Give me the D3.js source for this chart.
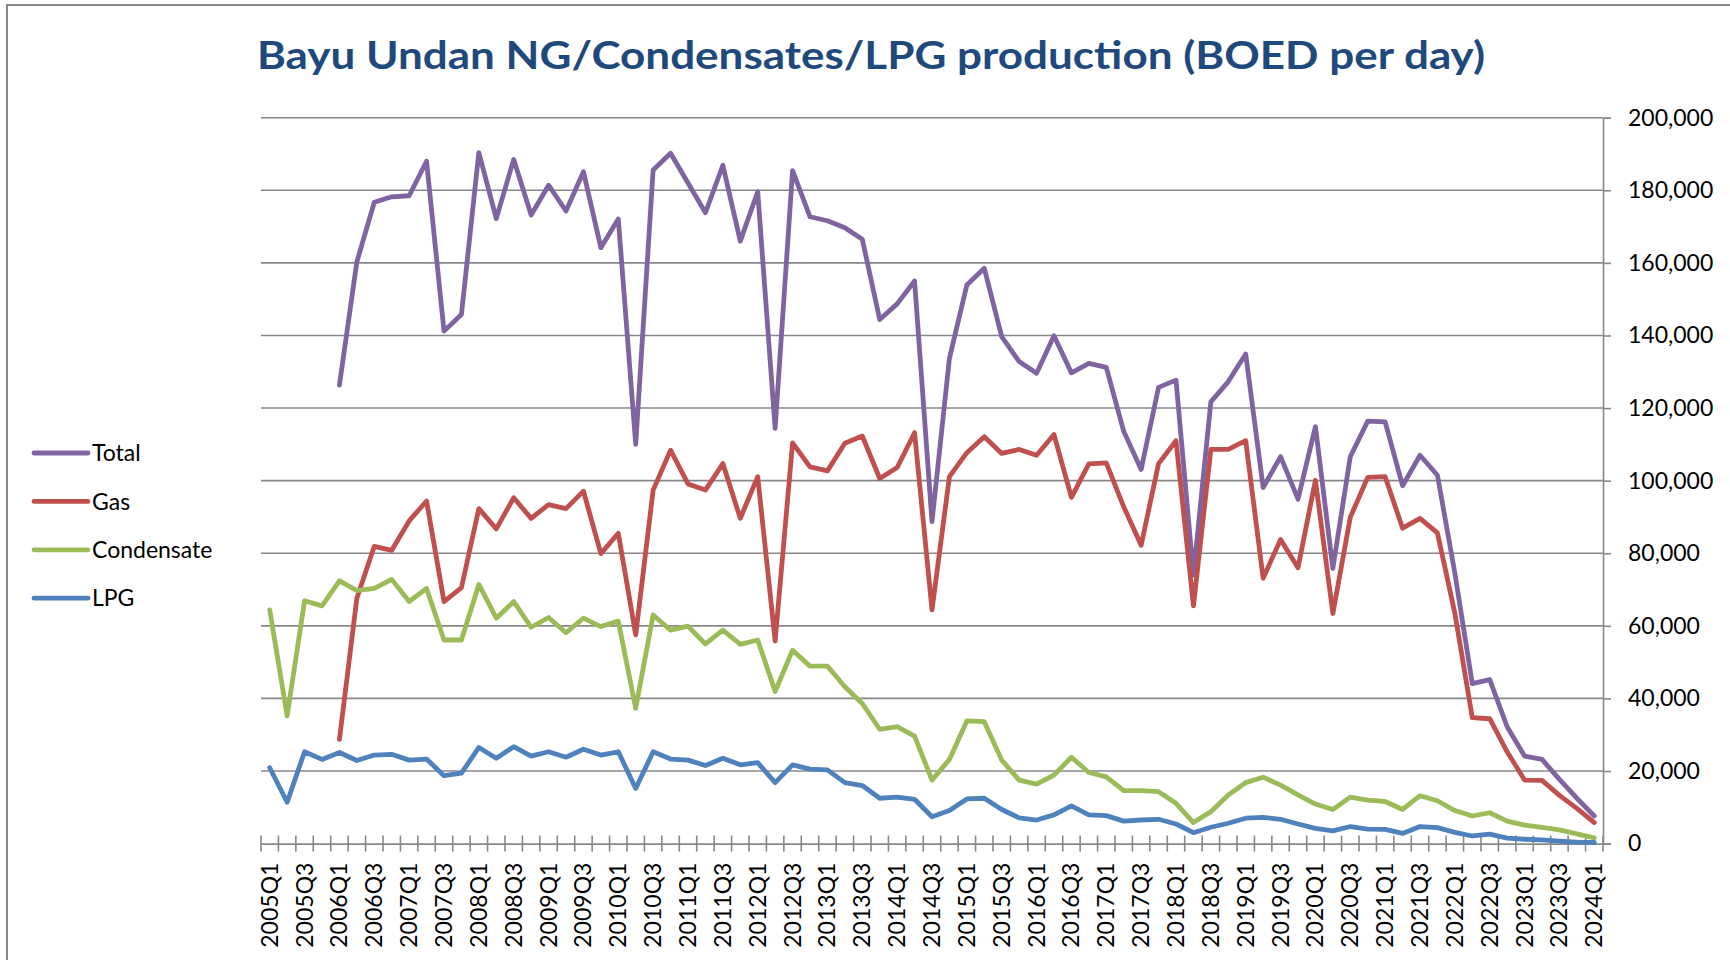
<!DOCTYPE html>
<html>
<head>
<meta charset="utf-8">
<script src="https://cdn.jsdelivr.net/npm/d3@7"></script>
<style>
  body { margin: 0; background: #fff; }
  svg { display: block; font-family: Lato, "Open Sans", sans-serif; }
</style>
</head>
<body>
<svg id="chart" width="1730" height="960"></svg>
<script>
const quarters = [
  "2005Q1","2005Q2","2005Q3","2005Q4","2006Q1","2006Q2","2006Q3","2006Q4",
  "2007Q1","2007Q2","2007Q3","2007Q4","2008Q1","2008Q2","2008Q3","2008Q4",
  "2009Q1","2009Q2","2009Q3","2009Q4","2010Q1","2010Q2","2010Q3","2010Q4",
  "2011Q1","2011Q2","2011Q3","2011Q4","2012Q1","2012Q2","2012Q3","2012Q4",
  "2013Q1","2013Q2","2013Q3","2013Q4","2014Q1","2014Q2","2014Q3","2014Q4",
  "2015Q1","2015Q2","2015Q3","2015Q4","2016Q1","2016Q2","2016Q3","2016Q4",
  "2017Q1","2017Q2","2017Q3","2017Q4","2018Q1","2018Q2","2018Q3","2018Q4",
  "2019Q1","2019Q2","2019Q3","2019Q4","2020Q1","2020Q2","2020Q3","2020Q4",
  "2021Q1","2021Q2","2021Q3","2021Q4","2022Q1","2022Q2","2022Q3","2022Q4",
  "2023Q1","2023Q2","2023Q3","2023Q4","2024Q1"
];

const total = [
  null, null, null, null, 126300, 160300, 176700, 178200,
  178500, 188000, 141200, 145800, 190400, 172200, 188500, 173200,
  181400, 174300, 185100, 164200, 172100, 110000, 185600, 190200,
  182000, 173800, 186900, 166000, 179600, 114400, 185400, 172700,
  171600, 169700, 166500, 144400, 148700, 155000, 88700, 133700,
  153900, 158500, 139700, 132800, 129600, 139900, 129700, 132300,
  131200, 113600, 103100, 125700, 127700, 74000, 121700, 127300,
  134900, 98100, 106600, 94900, 114900, 75800, 106600, 116400,
  116200, 98600, 107000, 101500, 74500, 44100, 45200, 32200,
  24100, 23200, 17700, 12500, 7600
];

const gas = [
  null, null, null, null, 28700, 67600, 81900, 80800,
  88900, 94400, 66700, 70500, 92300, 86700, 95300, 89600,
  93400, 92300, 97100, 79900, 85500, 57500, 97400, 108400,
  99100, 97400, 104700, 89600, 101100, 55800, 110400, 103800,
  102700, 110300, 112300, 100600, 103600, 113200, 64400, 101100,
  107700, 112100, 107500, 108600, 107000, 112700, 95400, 104600,
  104900, 92800, 82200, 104700, 111000, 65500, 108600, 108600,
  111000, 73100, 83800, 76000, 100100, 63400, 89900, 100900,
  101100, 86900, 89600, 85600, 63500, 34700, 34400, 25300,
  17500, 17400, 13300, 9700, 5800
];

const condensate = [
  64400, 35200, 66900, 65500, 72400, 69700, 70300, 72800,
  66700, 70300, 56100, 56100, 71400, 62100, 66700, 59600,
  62300, 58100, 62100, 59800, 61300, 37300, 63000, 58800,
  59900, 55000, 58800, 54900, 56100, 41900, 53300, 48900,
  48900, 43200, 38600, 31500, 32200, 29600, 17500, 23200,
  33800, 33600, 23000, 17500, 16400, 18900, 23800, 19600,
  18400, 14600, 14600, 14300, 11100, 5800, 8800, 13400,
  16800, 18300, 16100, 13400, 10900, 9400, 12800, 12000,
  11600, 9400, 13200, 11800, 9100, 7600, 8500, 6200,
  5100, 4500, 3800, 2700, 1600
];

const lpg = [
  20900, 11400, 25300, 23200, 25100, 22900, 24400, 24600,
  23000, 23300, 18700, 19400, 26500, 23500, 26700, 24100,
  25300, 23800, 26000, 24400, 25300, 15200, 25300, 23300,
  23000, 21500, 23500, 21700, 22300, 16800, 21700, 20500,
  20300, 16800, 16000, 12500, 12800, 12200, 7400, 9100,
  12300, 12500, 9400, 7100, 6500, 7900, 10400, 7900,
  7700, 6200, 6500, 6700, 5400, 3000, 4500, 5600,
  7000, 7200, 6700, 5400, 4200, 3500, 4700, 4000,
  3900, 2800, 4700, 4400, 3100, 2100, 2600, 1500,
  1200, 1000, 700, 400, 300
];

const seriesNames = ["Total", "Gas", "Condensate", "LPG"];
const seriesColors = ["#8064A2", "#C0504D", "#9BBB59", "#4F81BD"];
const yTicks = [0, 20000, 40000, 60000, 80000, 100000, 120000, 140000, 160000, 180000, 200000];

const svg = d3.select("#chart");
const plot = { left: 261, right: 1603, top: 117.7, bottom: 843.6 };
const gridColor = "#888888";

svg.append("rect")
  .attr("x", 7).attr("y", 5)
  .attr("width", 1800).attr("height", 1000)
  .attr("fill", "#fff")
  .attr("stroke", gridColor)
  .attr("stroke-width", 2);

const x = d3.scaleBand().domain(quarters).range([plot.left, plot.right]).padding(0);
const y = d3.scaleLinear().domain([0, 200000]).range([plot.bottom, plot.top]);
const cx = q => x(q) + x.bandwidth() / 2;

// title: Lato is wider than the original face, so squeeze it to the same span
svg.append("text")
  .attr("x", 257).attr("y", 69)
  .attr("fill", "#1F497D")
  .attr("font-weight", 700)
  .attr("font-size", 39)
  .attr("textLength", 1228)
  .attr("lengthAdjust", "spacingAndGlyphs")
  .text("Bayu Undan NG/Condensates/LPG production (BOED per day)");

// gridlines
svg.append("g")
  .selectAll("line")
  .data(yTicks.filter(d => d > 0))
  .enter()
  .append("line")
  .attr("x1", plot.left).attr("x2", plot.right)
  .attr("y1", d => y(d)).attr("y2", d => y(d))
  .attr("stroke", gridColor)
  .attr("stroke-width", 1.6);

// right value axis
const yAxis = svg.append("g")
  .attr("transform", `translate(${plot.right},0)`)
  .call(d3.axisRight(y).tickValues(yTicks).tickSize(8).tickPadding(17).tickFormat(d3.format(",")));
yAxis.select(".domain").attr("stroke", gridColor).attr("stroke-width", 1.6);
yAxis.selectAll(".tick line").attr("stroke", gridColor).attr("stroke-width", 1.6);
yAxis.selectAll("text").attr("font-size", 23).attr("fill", "#000").attr("font-family", "Lato, sans-serif");

// category axis
const xAxis = svg.append("g")
  .attr("transform", `translate(0,${plot.bottom})`)
  .call(d3.axisBottom(x).tickValues(quarters.filter((d, i) => i % 2 === 0)).tickSize(0).tickPadding(0));
xAxis.select(".domain").attr("stroke", gridColor).attr("stroke-width", 1.6);
xAxis.selectAll("text")
  .attr("font-size", 23)
  .attr("fill", "#000")
  .attr("font-family", "Lato, sans-serif")
  .attr("text-anchor", "end")
  .attr("dy", "0.35em")
  .attr("transform", "translate(0,19) rotate(-90)");

svg.append("g")
  .selectAll("line")
  .data(quarters.map(q => x(q)).concat([plot.right]))
  .enter()
  .append("line")
  .attr("x1", d => d).attr("x2", d => d)
  .attr("y1", plot.bottom - 8).attr("y2", plot.bottom + 8)
  .attr("stroke", gridColor)
  .attr("stroke-width", 1.6);

// series lines
const seriesData = [total, gas, condensate, lpg];
const line = d3.line()
  .defined(d => d.v !== null)
  .x(d => cx(d.q))
  .y(d => y(d.v));

svg.append("g")
  .selectAll("path")
  .data(seriesData)
  .enter()
  .append("path")
  .attr("d", vals => line(vals.map((v, i) => ({ q: quarters[i], v }))))
  .attr("fill", "none")
  .attr("stroke", (d, i) => seriesColors[i])
  .attr("stroke-width", 4.8)
  .attr("stroke-linejoin", "round")
  .attr("stroke-linecap", "round");

// legend
const legend = svg.append("g")
  .selectAll("g")
  .data(seriesNames)
  .enter()
  .append("g")
  .attr("transform", (d, i) => `translate(0,${453 + i * 48.4})`);

legend.append("line")
  .attr("x1", 34).attr("x2", 88)
  .attr("stroke", (d, i) => seriesColors[i])
  .attr("stroke-width", 4.8)
  .attr("stroke-linecap", "round");

legend.append("text")
  .attr("x", 92)
  .attr("dy", "0.36em")
  .attr("font-size", 23)
  .attr("fill", "#000")
  .text(d => d);
</script>
</body>
</html>
